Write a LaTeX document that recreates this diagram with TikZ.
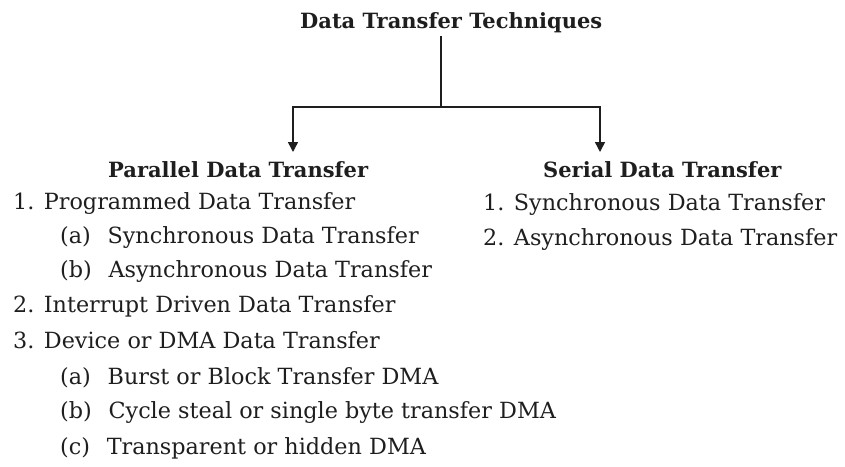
\documentclass[tikz,border=0pt]{standalone}
\usepackage{fontspec}
\setmainfont{DejaVu Serif}
\usetikzlibrary{arrows.meta}
\definecolor{ink}{HTML}{1E1E1E}
\begin{document}
\begin{tikzpicture}[x=1pt,y=-1pt,
  txt/.style={anchor=base west,inner sep=0pt,text=ink,font=\fontsize{22.3}{26}\selectfont},
  hd/.style={anchor=base west,inner sep=0pt,text=ink,font=\fontsize{21}{25}\selectfont\bfseries},
  conn/.style={draw=ink,line width=1.5pt},
  tip/.style={-{Triangle[width=10pt,length=10pt]}}]
\useasboundingbox (0,0) rectangle (845,466);
\node[hd] (title) at (300,28) {Data Transfer Techniques};
\coordinate (split) at (441,107);
\coordinate (aL) at (293,152);
\coordinate (aR) at (600,152);
\node[hd] (par) at (108,177) {Parallel Data Transfer};
\node[hd] (ser) at (543,177) {Serial Data Transfer};
\node[txt] (p1) at (13,209) {1. Programmed Data Transfer};
\node[txt] (p1a) at (60,243) {(a)\hspace{0.75em}Synchronous Data Transfer};
\node[txt] (p1b) at (60,277) {(b)\hspace{0.75em}Asynchronous Data Transfer};
\node[txt] (p2) at (13,312) {2. Interrupt Driven Data Transfer};
\node[txt] (p3) at (13,348) {3. Device or DMA Data Transfer};
\node[txt] (p3a) at (60,384) {(a)\hspace{0.75em}Burst or Block Transfer DMA};
\node[txt] (p3b) at (60,418) {(b)\hspace{0.75em}Cycle steal or single byte transfer DMA};
\node[txt] (p3c) at (60,454) {(c)\hspace{0.75em}Transparent or hidden DMA};
\node[txt] (s1) at (483,210) {1. Synchronous Data Transfer};
\node[txt] (s2) at (483,245) {2. Asynchronous Data Transfer};
\draw[conn] (split |- title.south) ++(0,3) -- (split);
\draw[conn,tip] (split) -| (aL);
\draw[conn,tip] (split) -| (aR);
\end{tikzpicture}
\end{document}
